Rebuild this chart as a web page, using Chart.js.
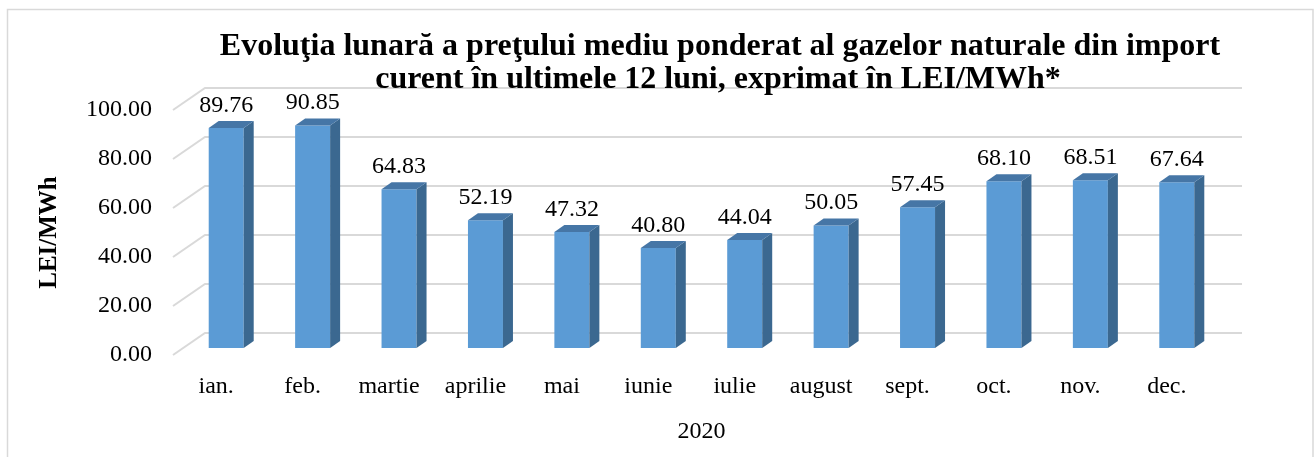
<!DOCTYPE html>
<html>
<head>
<meta charset="utf-8">
<script src="https://cdn.jsdelivr.net/npm/chart.js@4"></script>
<style>
  html, body { margin: 0; padding: 0; background: #fff; }
  canvas { display: block; }
</style>
</head>
<body>
<canvas id="chart" width="1316" height="457"></canvas>
<script>
// ── DATA ──
const months = ['ian.', 'feb.', 'martie', 'aprilie', 'mai', 'iunie', 'iulie', 'august', 'sept.', 'oct.', 'nov.', 'dec.'];
const prices = [89.76, 90.85, 64.83, 52.19, 47.32, 40.80, 44.04, 50.05, 57.45, 68.10, 68.51, 67.64];
const yTicks = [0, 20, 40, 60, 80, 100];
const titleLines = ['Evoluţia lunară a preţului mediu ponderat al gazelor naturale din import',
                    'curent în ultimele 12 luni, exprimat în LEI/MWh*'];
const yTitle = 'LEI/MWh';
const xTitle = '2020';

const SERIF = "'Liberation Serif', 'Times New Roman', serif";
const DEPTH_X = 10, DEPTH_Y = 7;   // bar depth
const GRID_COLOR = '#d9d9d9';

// frame, title, 3D floor/wall gridlines, bar sides + value labels
const backdrop = {
    id: 'backdrop',
    beforeDraw(chart) {
        const ctx = chart.ctx;
        ctx.save();
        ctx.fillStyle = '#fff';
        ctx.fillRect(0, 0, chart.width, chart.height);
        ctx.strokeStyle = '#d9d9d9';
        ctx.lineWidth = 1.5;
        ctx.strokeRect(7.5, 9.5, 1305.5, 470);
        ctx.restore();
    },
    beforeDatasetsDraw(chart) {
        const { ctx, chartArea: a, scales: { y } } = chart;
        ctx.save();
        ctx.strokeStyle = GRID_COLOR;
        ctx.lineWidth = 2;
        yTicks.forEach(v => {
            const py = y.getPixelForValue(v);
            ctx.beginPath();
            ctx.moveTo(a.left - DEPTH_X, py + DEPTH_Y);
            ctx.lineTo(a.left + 22, py - 15);
            ctx.lineTo(a.right + 22, py - 15);
            ctx.stroke();
        });
        ctx.restore();
    },
    afterDatasetsDraw(chart) {
        const { ctx, chartArea: a } = chart;
        const bars = chart.getDatasetMeta(0).data;
        ctx.save();
        bars.forEach((bar, i) => {
            const { x, y, base, width } = bar.getProps(['x', 'y', 'base', 'width'], true);
            const l = x - width / 2, r = x + width / 2;
            // side face
            ctx.fillStyle = '#3b6890';
            ctx.beginPath();
            ctx.moveTo(r, y);
            ctx.lineTo(r + DEPTH_X, y - DEPTH_Y);
            ctx.lineTo(r + DEPTH_X, base - DEPTH_Y);
            ctx.lineTo(r, base);
            ctx.closePath();
            ctx.fill();
            // top face
            ctx.fillStyle = '#4676a6';
            ctx.beginPath();
            ctx.moveTo(l, y);
            ctx.lineTo(l + DEPTH_X, y - DEPTH_Y);
            ctx.lineTo(r + DEPTH_X, y - DEPTH_Y);
            ctx.lineTo(r, y);
            ctx.closePath();
            ctx.fill();
            // value label
            ctx.fillStyle = '#000';
            ctx.font = '24px ' + SERIF;
            ctx.textAlign = 'center';
            ctx.textBaseline = 'alphabetic';
            ctx.fillText(prices[i].toFixed(2), x, y - 16);
        });
        // chart title
        ctx.font = 'bold 32px ' + SERIF;
        ctx.textAlign = 'center';
        ctx.textBaseline = 'middle';
        ctx.fillText(titleLines[0], 720, 47);
        ctx.fillText(titleLines[1], 718, 80);
        // y axis title (centred on the front plane)
        ctx.save();
        ctx.translate(50, (a.top + a.bottom) / 2 + DEPTH_Y);
        ctx.rotate(-Math.PI / 2);
        ctx.font = 'bold 25px ' + SERIF;
        ctx.fillText(yTitle, 0, 0);
        ctx.restore();
        ctx.restore();
    }
};

new Chart(document.getElementById('chart').getContext('2d'), {
    type: 'bar',
    data: {
        labels: months,
        datasets: [{
            data: prices,
            backgroundColor: '#5b9bd5',
            borderWidth: 0,
            barPercentage: 0.405,
            categoryPercentage: 1
        }]
    },
    options: {
        responsive: false,
        animation: false,
        layout: { padding: { left: 0, right: 96, top: 103, bottom: 0 } },
        scales: {
            x: {
                grid: { display: false },
                border: { display: false },
                ticks: { color: '#000', font: { family: SERIF, size: 24 }, padding: 16, labelOffset: -10, maxRotation: 0 },
                title: { display: true, text: xTitle, color: '#000', font: { family: SERIF, size: 24 }, padding: { top: 0, bottom: 11 } },
                afterFit: s => {
                    s.height = 109;
                    s.paddingLeft = s.paddingRight = 0;
                }
            },
            y: {
                min: 0, max: 100,
                afterBuildTicks: s => { s.ticks = yTicks.map(v => ({ value: v })); },
                grid: { display: false },
                border: { display: false },
                ticks: { color: '#000', font: { family: SERIF, size: 24 }, padding: 23, labelOffset: 7, callback: v => Number(v).toFixed(2) },
                afterFit: s => {
                    s.width = 183;
                    s.paddingTop = s.paddingBottom = 0;
                }
            }
        },
        plugins: {
            legend: { display: false },
            tooltip: { enabled: false },
            title: { display: false }
        }
    },
    plugins: [backdrop]
});
</script>
</body>
</html>
